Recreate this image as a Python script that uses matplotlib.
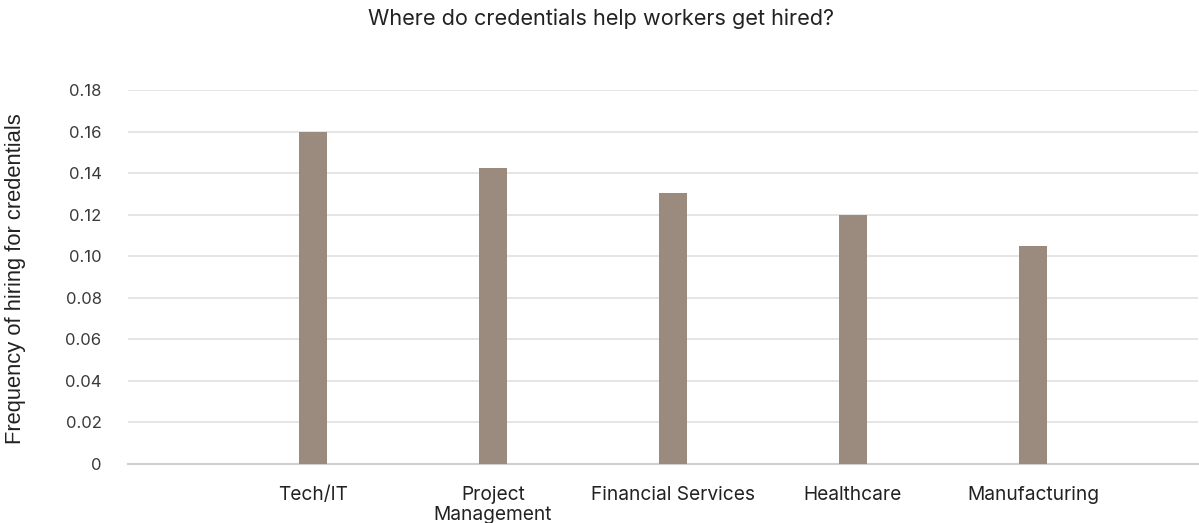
import matplotlib.pyplot as plt
import numpy as np

industries = ["Tech/IT", "Project\nManagement", "Financial Services", "Healthcare", "Manufacturing"]
hiring_freq = [0.160, 0.1425, 0.1305, 0.120, 0.105]
y_ticks = [0, 0.02, 0.04, 0.06, 0.08, 0.10, 0.12, 0.14, 0.16, 0.18]
y_tick_labels = ["0", "0.02", "0.04", "0.06", "0.08", "0.10", "0.12", "0.14", "0.16", "0.18"]

LABEL_FONT = ["Inter", "DejaVu Sans"]

fig = plt.figure(figsize=(11.99, 5.23), dpi=100)
ax = fig.add_axes([128 / 1199, 1 - 464 / 523, 1070 / 1199, (464 - 90) / 523])

x = np.arange(len(industries))
ax.bar(x, hiring_freq, width=0.155, color="#9b8a7e", zorder=3)

ax.set_xlim(-1.028, 4.917)
ax.set_ylim(0, 0.18)
ax.set_yticks(y_ticks)
ax.set_yticklabels(y_tick_labels, fontsize=12, color="#3a3a3a", family=LABEL_FONT)
ax.set_xticks(x)
ax.set_xticklabels(industries, fontsize=13.8, color="#222222", family=LABEL_FONT,
                   linespacing=1.1)

ax.grid(axis="y", color="#e0e0e0", linewidth=1.2, zorder=0)
ax.tick_params(axis="both", length=0)
ax.tick_params(axis="x", pad=16)
ax.tick_params(axis="y", pad=19)
for side in ["top", "right", "left"]:
    ax.spines[side].set_visible(False)
ax.spines["bottom"].set_color("#d0d0d0")
ax.spines["bottom"].set_linewidth(1.5)

fig.text(16 / 1199, 1 - 279 / 523, "Frequency of hiring for credentials",
         rotation=90, ha="center", va="center", fontsize=15.8,
         color="#222222", family=["Liberation Sans", "DejaVu Sans"])
fig.text(601 / 1199, 1 - 19 / 523, "Where do credentials help workers get hired?",
         ha="center", va="center", fontsize=15.6, color="#222222", family=LABEL_FONT)

fig.savefig("out.png", dpi=100)
